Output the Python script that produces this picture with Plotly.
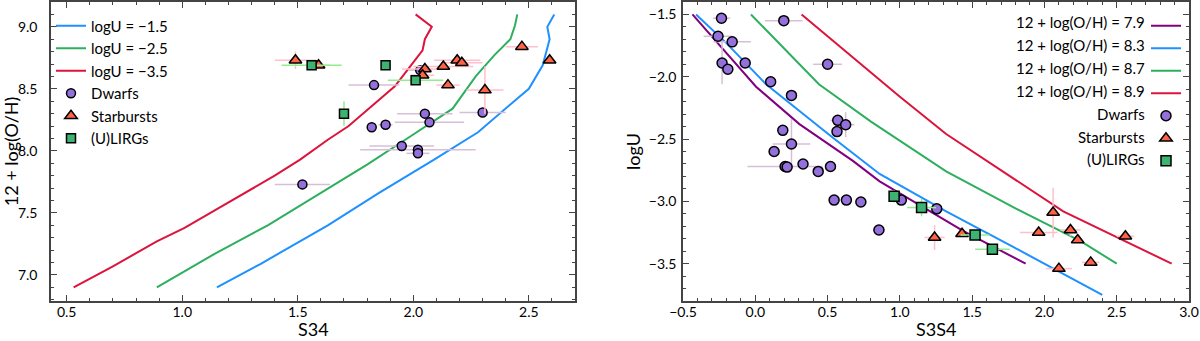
import plotly.graph_objects as go

# ---- left panel: S34 vs 12+log(O/H), photoionisation tracks at fixed logU
u15_x = [1.15, 1.34, 1.63, 1.85, 2.09, 2.28, 2.43, 2.50, 2.56, 2.58, 2.59, 2.58, 2.61]
u15_y = [6.90, 7.09, 7.40, 7.66, 7.93, 8.15, 8.39, 8.50, 8.69, 8.82, 8.90, 9.00, 9.10]
u25_x = [0.89, 1.14, 1.37, 1.51, 1.63, 1.80, 1.99, 2.17, 2.27, 2.35, 2.42, 2.44, 2.45]
u25_y = [6.90, 7.17, 7.40, 7.56, 7.69, 7.89, 8.12, 8.34, 8.60, 8.77, 8.90, 9.01, 9.10]
u35_x = [0.53, 0.70, 0.89, 1.01, 1.15, 1.40, 1.51, 1.63, 1.72, 1.82, 1.92, 1.99, 2.04, 2.05, 2.08, 2.01]
u35_y = [6.90, 7.07, 7.27, 7.38, 7.53, 7.80, 7.93, 8.09, 8.20, 8.36, 8.52, 8.69, 8.81, 8.90, 9.00, 9.10]

dw_s34 = [1.52, 1.83, 2.05, 2.07, 2.30, 1.82, 1.88, 1.95, 2.02, 2.02, 2.03]
dw_oh = [7.73, 8.53, 8.30, 8.23, 8.31, 8.19, 8.21, 8.04, 8.01, 7.98, 8.65]
dw_s34_err = [0.12, 0.11, 0.12, 0.15, 0.10, 0.0, 0.03, 0.14, 0.25, 0.05, 0.05]
dw_oh_err = [0, 0, 0, 0, 0, 0, 0, 0, 0, 0, 0]

sb_s34 = [1.49, 1.59, 2.05, 2.04, 2.13, 2.19, 2.21, 2.15, 2.31, 2.47, 2.59]
sb_oh = [8.73, 8.69, 8.66, 8.61, 8.68, 8.73, 8.71, 8.53, 8.49, 8.84, 8.73]
sb_s34_err = [0.09, 0.05, 0.10, 0.05, 0.13, 0.10, 0.09, 0.05, 0.08, 0.07, 0.0]
sb_oh_err = [0.07, 0, 0.03, 0, 0, 0, 0, 0, 0.19, 0, 0]

lg_s34 = [1.56, 1.88, 2.01, 1.70]
lg_oh = [8.69, 8.69, 8.57, 8.30]
lg_s34_err = [0.13, 0.0, 0.12, 0.0]
lg_oh_err = [0, 0, 0.03, 0.10]

# ---- right panel: S3S4 vs logU, tracks at fixed metallicity
z79_x = [-0.435, -0.215, 0.005, 0.305, 0.675, 0.86, 1.09, 1.44, 1.87]
z79_y = [-1.50, -1.79, -2.08, -2.38, -2.675, -2.84, -3.00, -3.24, -3.50]
z83_x = [-0.41, -0.20, 0.074, 0.537, 0.86, 1.32, 1.79, 2.40]
z83_y = [-1.50, -1.73, -2.06, -2.49, -2.78, -3.08, -3.37, -3.75]
z87_x = [-0.03, 0.21, 0.44, 0.80, 1.32, 1.79, 2.25, 2.50]
z87_y = [-1.50, -1.79, -2.06, -2.36, -2.76, -3.05, -3.32, -3.50]
z89_x = [0.32, 0.86, 1.00, 1.32, 1.71, 2.13, 2.88]
z89_y = [-1.50, -2.03, -2.16, -2.46, -2.76, -3.08, -3.50]

dw_s3s4 = [-0.234, 0.197, -0.258, -0.16, -0.23, -0.19, -0.07, 0.106, 0.25, 0.50, 0.57, 0.625, 0.565,
           0.19, 0.25, 0.13, 0.206, 0.22, 0.33, 0.435, 0.52, 0.545, 0.63, 0.73, 0.855, 1.01, 1.255]
dw_logu = [-1.53, -1.55, -1.675, -1.72, -1.89, -1.94, -1.89, -2.04, -2.15, -1.90, -2.35, -2.385, -2.44,
           -2.43, -2.54, -2.60, -2.72, -2.725, -2.70, -2.76, -2.72, -2.99, -2.99, -3.005, -3.23, -2.99, -3.06]
dw_s3s4_err = [0.06, 0.13, 0.10, 0.13, 0.0, 0.0, 0.0, 0.0, 0.0, 0.10, 0.05, 0.06, 0.0,
               0.0, 0.13, 0.0, 0.26, 0.0, 0.0, 0.0, 0.0, 0.0, 0.0, 0.0, 0.04, 0.0, 0.0]
dw_logu_err = [0, 0, 0, 0, 0.17, 0, 0, 0, 0, 0, 0, 0.10, 0,
               0, 0.20, 0, 0, 0, 0, 0, 0, 0, 0, 0, 0, 0.04, 0]

sb_s3s4 = [2.06, 1.24, 1.43, 1.96, 2.18, 2.23, 2.10, 2.32, 2.56]
sb_logu = [-3.09, -3.29, -3.26, -3.25, -3.23, -3.31, -3.54, -3.49, -3.28]
sb_s3s4_err = [0.0, 0.07, 0.0, 0.13, 0.07, 0.0, 0.09, 0.06, 0.06]
sb_logu_err = [0.20, 0.10, 0.0, 0.0, 0.05, 0.0, 0.0, 0.0, 0.0]

lg_s3s4 = [0.96, 1.15, 1.52, 1.64]
lg_logu = [-2.96, -3.05, -3.27, -3.385]
lg_s3s4_err = [0.03, 0.10, 0.10, 0.12]
lg_logu_err = [0.05, 0.07, 0.0, 0.0]

right_legend_labels = ['12 + log(O/H) = 7.9', '12 + log(O/H) = 8.3', '12 + log(O/H) = 8.7',
                       '12 + log(O/H) = 8.9', 'Dwarfs', 'Starbursts', '(U)LIRGs']

FONT = 'Lato'
C_BLUE = '#1E90FF'
C_GREEN = '#2EAF5E'
C_RED = '#DC143C'
C_PURPLE = '#800080'
C_DW = '#9370DB'
C_SB = '#FF6347'
C_LG = '#3CB371'

fig = go.Figure()


def add_line(x, y, color, name, xa, ya, legend):
    fig.add_trace(go.Scatter(x=x, y=y, mode='lines', name=name, xaxis=xa, yaxis=ya,
                             legend=legend, line=dict(color=color, width=2)))


def add_points(x, y, ex, ey, color, ecolor, symbol, size, name, xa, ya, legend):
    fig.add_trace(go.Scatter(
        x=x, y=y, mode='markers', name=name, xaxis=xa, yaxis=ya, legend=legend,
        marker=dict(color=color, symbol=symbol, size=size, line=dict(color='black', width=1.5)),
        error_x=dict(type='data', array=ex, color=ecolor, thickness=1.5, width=0),
        error_y=dict(type='data', array=ey, color=ecolor, thickness=1.5, width=0),
    ))


# left panel
add_line(u15_x, u15_y, C_BLUE, 'logU = −1.5', 'x', 'y', 'legend')
add_line(u25_x, u25_y, C_GREEN, 'logU = −2.5', 'x', 'y', 'legend')
add_line(u35_x, u35_y, C_RED, 'logU = −3.5', 'x', 'y', 'legend')
add_points(dw_s34, dw_oh, dw_s34_err, dw_oh_err, C_DW, '#D8BFD8', 'circle', 9, 'Dwarfs', 'x', 'y', 'legend')
add_points(sb_s34, sb_oh, sb_s34_err, sb_oh_err, C_SB, '#FFC0CB', 'triangle-up', 11, 'Starbursts', 'x', 'y', 'legend')
add_points(lg_s34, lg_oh, lg_s34_err, lg_oh_err, C_LG, '#90EE90', 'square', 9, '(U)LIRGs', 'x', 'y', 'legend')

# right panel (legend text is drawn as right-aligned annotations)
add_line(z79_x, z79_y, C_PURPLE, ' ', 'x2', 'y2', 'legend2')
add_line(z83_x, z83_y, C_BLUE, ' ', 'x2', 'y2', 'legend2')
add_line(z87_x, z87_y, C_GREEN, ' ', 'x2', 'y2', 'legend2')
add_line(z89_x, z89_y, C_RED, ' ', 'x2', 'y2', 'legend2')
add_points(dw_s3s4, dw_logu, dw_s3s4_err, dw_logu_err, C_DW, '#D8BFD8', 'circle', 10, ' ', 'x2', 'y2', 'legend2')
add_points(sb_s3s4, sb_logu, sb_s3s4_err, sb_logu_err, C_SB, '#FFC0CB', 'triangle-up', 11, ' ', 'x2', 'y2', 'legend2')
add_points(lg_s3s4, lg_logu, lg_s3s4_err, lg_logu_err, C_LG, '#90EE90', 'square', 10, ' ', 'x2', 'y2', 'legend2')

axis_style = dict(
    showline=True, linecolor='#444', linewidth=1.5, mirror='ticks',
    ticks='inside', ticklen=6, tickwidth=1.2, tickcolor='#444',
    minor=dict(ticks='inside', ticklen=3, tickwidth=1, tickcolor='#444', dtick=0.1),
    showgrid=False, zeroline=False, dtick=0.5, tickformat='.1f', automargin=False,
    tickfont=dict(family=FONT, size=14, color='black'),
)

H = 341
top_px, bot_px = 2, 301
left_px = 51
plot_w = 1200 - left_px - 11
plot_h = bot_px - top_px


def legend_y(k):
    return 1 - (22.5 + 22.8 * k - top_px) / plot_h


annotations = []
for k, lab in enumerate(right_legend_labels):
    annotations.append(dict(
        text=lab, xref='paper', yref='paper', x=(1147 - left_px) / plot_w, y=legend_y(k),
        xanchor='right', yanchor='middle', showarrow=False,
        font=dict(family=FONT, size=15, color='black'),
    ))

# x-axis titles sit on the bottom edge of the figure
for xdom, lab in [((0, 0.4605), 'S34'), ((0.5554, 1.0), 'S3S4')]:
    annotations.append(dict(
        text=lab, xref='paper', yref='paper', x=(xdom[0] + xdom[1]) / 2,
        y=-(H - bot_px) / plot_h, xanchor='center', yanchor='bottom', showarrow=False,
        borderpad=0, font=dict(family=FONT, size=18, color='black'),
    ))

fig.update_layout(
    width=1200, height=H,
    margin=dict(l=left_px, r=11, t=top_px, b=H - bot_px),
    plot_bgcolor='white', paper_bgcolor='white',
    font=dict(family=FONT, size=15, color='black'),
    xaxis=dict(domain=[0, 0.4605], range=[0.432, 2.70], anchor='y', ticklabelstandoff=-3,
               **axis_style),
    yaxis=dict(domain=[0, 1], range=[6.79, 9.2], anchor='x', ticklabelstandoff=9,
               title=dict(text='12 + log(O/H)', font=dict(size=18), standoff=4), **axis_style),
    xaxis2=dict(domain=[0.5554, 1.0], range=[-0.5, 3.0], anchor='y2', ticklabelstandoff=-3,
                **axis_style),
    yaxis2=dict(domain=[0, 1], range=[-3.8, -1.4], anchor='x2', ticklabelstandoff=2,
                title=dict(text='logU', font=dict(size=18), standoff=4), **axis_style),
    legend=dict(x=0.0, y=0.975, xanchor='left', yanchor='top', bgcolor='rgba(0,0,0,0)',
                font=dict(family=FONT, size=15), tracegroupgap=0),
    legend2=dict(x=(1146 - left_px) / plot_w, y=0.975, xanchor='left', yanchor='top',
                 bgcolor='rgba(0,0,0,0)', font=dict(family=FONT, size=15), tracegroupgap=0),
    annotations=annotations,
    showlegend=True,
)

# the page's default body margin would push the figure off the window
fig.write_html('out.html', config={'displayModeBar': False},
               post_script="document.body.style.margin='0';")
